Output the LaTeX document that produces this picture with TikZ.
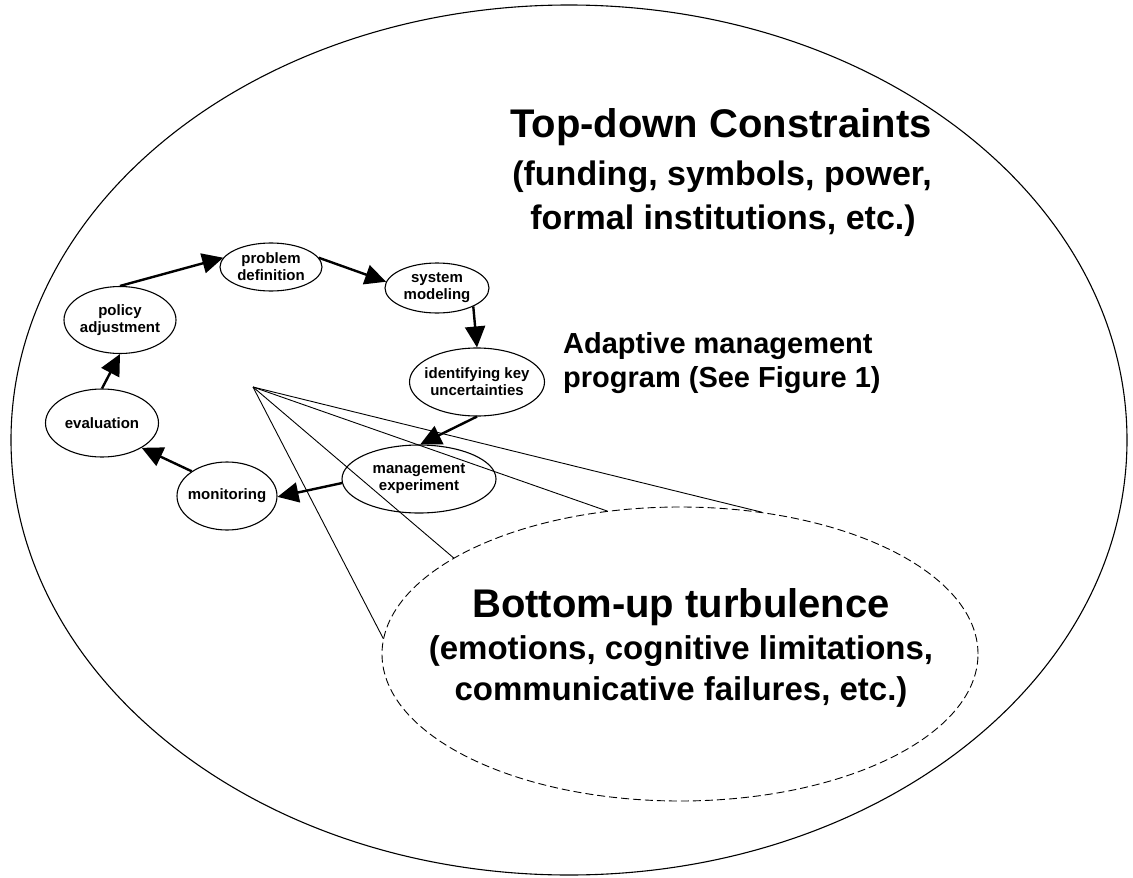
\documentclass[tikz,border=0pt]{standalone}
\usepackage{fontspec}
\setmainfont{Liberation Sans}
\usetikzlibrary{shapes.geometric,arrows.meta}
\begin{document}
\begin{tikzpicture}[x=1pt,y=-1pt,
  bub/.style={draw, ellipse, line width=1.1pt, inner sep=0pt},
  lbl/.style={align=center, font=\bfseries\fontsize{15}{17}\selectfont},
  flow/.style={line width=2.4pt, -{Triangle[length=21pt,width=20pt]}},
  ray/.style={line width=0.9pt},
  big/.style={anchor=base, inner sep=0pt}]
\useasboundingbox (0,0) rectangle (1133,878);
% outer ellipse
\node[draw, ellipse, line width=1.1pt, minimum width=1116pt, minimum height=870pt, inner sep=0pt] (outer) at (569,440) {};
% dashed ellipse
\node[draw, ellipse, line width=0.9pt, dash pattern=on 8pt off 4pt, minimum width=596pt, minimum height=294pt, inner sep=0pt] (bu) at (680,654) {};
% cycle
\node[bub, minimum width=102pt, minimum height=48pt, label={[lbl]center:{problem\\definition}}] (prob) at (271,267) {};
\node[bub, minimum width=104pt, minimum height=50pt, label={[lbl]center:{system\\modeling}}] (sys) at (437,288) {};
\node[bub, minimum width=135pt, minimum height=68pt, label={[lbl]center:{identifying key\\uncertainties}}] (ident) at (477,382) {};
\node[bub, minimum width=154pt, minimum height=68pt, label={[lbl]center:{management\\experiment}}] (mgmt) at (419,479) {};
\node[bub, minimum width=100pt, minimum height=68pt, label={[lbl]center:{monitoring}}] (mon) at (227,496) {};
\node[bub, minimum width=113pt, minimum height=68pt, label={[lbl]center:{evaluation}}] (eval) at (102,423) {};
\node[bub, minimum width=112pt, minimum height=67pt, label={[lbl]center:{policy\\adjustment}}] (pol) at (120,320) {};
\draw[flow] (pol.north) -- (prob.169);
\draw[flow] (prob.11) -- (sys.173);
\draw[flow] (sys.-27) -- (ident.north);
\draw[flow] (ident.south) -- (mgmt.88);
\draw[flow] (mgmt.183) -- (mon.-1);
\draw[flow] (mon.145) -- (eval.-32);
\draw[flow] (eval.north) -- (pol.south);
% rays
\coordinate (apex) at (253,387);
\draw[ray] (apex) -- (bu.177);
\draw[ray] (apex) -- (bu.157.8);
\draw[ray] (apex) -- (bu.117);
\draw[ray] (apex) -- (bu.60.6);
% texts
\node[big, font=\bfseries\fontsize{40}{46}\selectfont] (td1) at (721,137) {Top-down Constraints};
\node[big, font=\bfseries\fontsize{34}{40}\selectfont] (td2) at (722,185) {(funding, symbols, power,};
\node[big, font=\bfseries\fontsize{34}{40}\selectfont] (td3) at (723,229) {formal institutions, etc.)};
\node[big, anchor=base west, font=\bfseries\fontsize{29}{34}\selectfont] (am1) at (563,353) {Adaptive management};
\node[big, anchor=base west, font=\bfseries\fontsize{29}{34}\selectfont] (am2) at (563,387) {program (See Figure 1)};
\node[big, font=\bfseries\fontsize{40}{46}\selectfont] (bt1) at (681,617) {Bottom-up turbulence};
\node[big, font=\bfseries\fontsize{33}{40}\selectfont] (bt2) at (681,659) {(emotions, cognitive limitations,};
\node[big, font=\bfseries\fontsize{33}{40}\selectfont] (bt3) at (681,700) {communicative failures, etc.)};
\end{tikzpicture}
\end{document}
